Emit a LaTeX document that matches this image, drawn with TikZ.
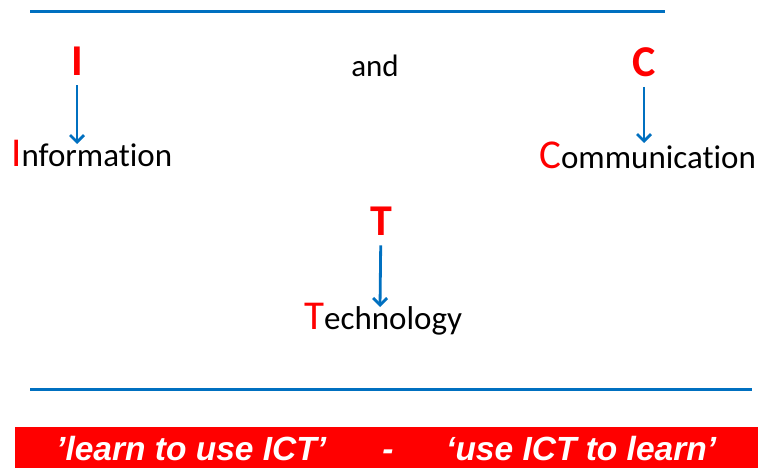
\documentclass[tikz,border=0pt]{standalone}
\usepackage{fontspec}
\setmainfont{Carlito}[Ligatures={NoCommon,TeX}]
\newfontfamily\barfont{Liberation Sans}
\usetikzlibrary{arrows.meta}
\definecolor{ictblue}{RGB}{0,112,192}
\definecolor{ictred}{RGB}{255,0,0}
\tikzset{
    letter/.style={inner sep=0pt,text=ictred,font=\fontsize{44}{44}\selectfont\bfseries},
    word/.style={inner sep=0pt,anchor=base west,font=\fontsize{33}{33}\selectfont},
    down/.style={draw=ictblue,line width=2.8pt,shorten <=10pt,-{Straight Barb[length=7pt,width=14pt,line width=2.8pt]}},
    rule/.style={draw=ictblue,line width=3pt},
    motto/.style={inner sep=0pt,anchor=base west,text=white,font=\barfont\fontsize{33.5}{33.5}\selectfont\bfseries\itshape}
}
\newcommand{\first}[1]{{\color{ictred}\fontsize{41}{41}\selectfont #1}}
\begin{document}
\begin{tikzpicture}[x=1pt,y=-1pt]
        \useasboundingbox (0,0) rectangle (758,468);
        \coordinate (topL) at (30,12);
        \coordinate (topR) at (665,12);
        \coordinate (botL) at (30,389);
        \coordinate (botR) at (752,389);
        \node[letter] (I) at (77,61) {I};
        \node[word,anchor=center,font=\fontsize{31}{31}\selectfont] (and) at (375,66) {and};
        \node[letter] (C) at (644,62) {C};
        \node[letter] (T) at (381,221) {T};
        \node[word] (Info) at (11,167) {\first{I}nformation};
        \node[word] (Comm) at (539,168) {\first{C}ommunication};
        \node[word] (Tech) at (304,329) {\first{T}echnology};
        \coordinate (Iend) at (77,144);
        \coordinate (Cend) at (644,143);
        \coordinate (Tend) at (380,307);
        \draw[down] (I) -- (Iend);
        \draw[down] (C) -- (Cend);
        \draw[down] (T) -- (Tend);
        \draw[rule] (topL) -- (topR);
        \draw[rule] (botL) -- (botR);
        \fill[ictred] (15,427) rectangle (758,468);
        \node[motto] (learn) at (56,460) {’learn to use ICT’};
        \node[motto,anchor=base] (dash) at (388,460) {-};
        \node[motto] (use) at (446,460) {‘use ICT to learn’};
    \end{tikzpicture}
\end{document}
